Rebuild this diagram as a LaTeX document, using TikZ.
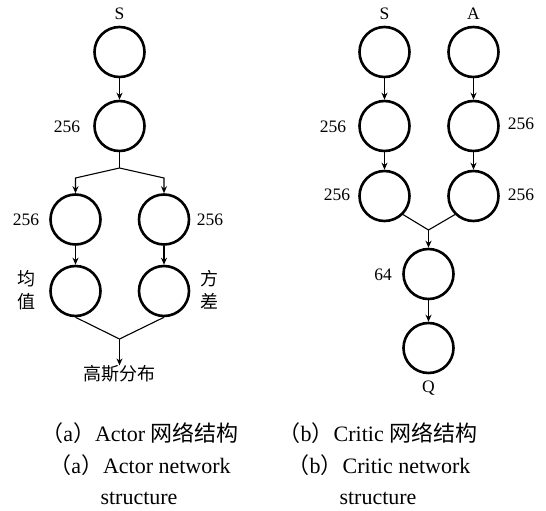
\documentclass[tikz,border=0pt]{standalone}
\usepackage{fontspec}
\setmainfont{Liberation Serif}
\newfontfamily\cjk{Noto Sans CJK SC}
\usetikzlibrary{arrows.meta}
\begin{document}
\begin{tikzpicture}[x=1pt,y=-1pt,
  neuron/.style={circle,draw,line width=2.6pt,minimum size=50pt,inner sep=0pt},
  flow/.style={line width=1.1pt,-{Stealth[length=7pt,width=6pt]}},
  link/.style={line width=1.1pt},
  lbl/.style={font=\fontsize{17.5}{19}\selectfont,inner sep=0pt},
  zh/.style={font=\cjk\fontsize{18}{20}\selectfont,inner sep=0pt},
  captext/.style={font=\fontsize{22}{24}\selectfont,inner sep=0pt}]
\useasboundingbox (0,0) rectangle (546,511);

% ---- Actor network ----
\node[neuron] (a1) at (119.5,52) {};
\node[neuron] (a2) at (119.5,126) {};
\node[neuron] (a3l) at (75.5,219.5) {};
\node[neuron] (a3r) at (164,219.5) {};
\node[neuron] (a4l) at (75.5,291) {};
\node[neuron] (a4r) at (164,291) {};

\node[lbl] (as) at (119.5,14) {S};
\node[lbl] (a2n) at (67,127) {256};
\node[lbl] (a3ln) at (26,220) {256};
\node[lbl] (a3rn) at (210,220) {256};
\node[zh] (mu1) at (26,279) {均};
\node[zh] (mu2) at (26,302) {值};
\node[zh] (sg1) at (209,279) {方};
\node[zh] (sg2) at (209,301) {差};
\node[zh] (gauss) at (119.5,374) {高斯分布};

\coordinate (aj) at (119.5,168);
\coordinate (ajl) at (75.5,178);
\coordinate (ajr) at (164,178);
\coordinate (am) at (119.5,339);

\draw[flow] (a1) -- (a2);
\draw[link] (a2) -- (aj);
\draw[flow] (aj) -- (ajl) -- (a3l);
\draw[flow] (aj) -- (ajr) -- (a3r);
\draw[flow] (a3l) -- (a4l);
\draw[flow] (a3r) -- (a4r);
\draw[link] (a4l.south) -- (am);
\draw[link] (a4r.south) -- (am);
\draw[flow] (am) -- (gauss.north);

% ---- Critic network ----
\node[neuron] (s1) at (384.5,52) {};
\node[neuron] (s2) at (384.5,126) {};
\node[neuron] (s3) at (384.5,196) {};
\node[neuron] (t1) at (473.5,52) {};
\node[neuron] (t2) at (473.5,126) {};
\node[neuron] (t3) at (473.5,196) {};
\node[neuron] (h) at (428.5,274) {};
\node[neuron] (q) at (428.5,348) {};

\node[lbl] (cs) at (384.5,14) {S};
\node[lbl] (ca) at (473.5,14) {A};
\node[lbl] (s2n) at (333,127) {256};
\node[lbl] (t2n) at (521,124) {256};
\node[lbl] (s3n) at (337,195) {256};
\node[lbl] (t3n) at (521,195) {256};
\node[lbl] (hn) at (383,275) {64};
\node[lbl] (qn) at (428.5,388) {Q};

\coordinate (cm) at (428.5,230);

\draw[flow] (s1) -- (s2);
\draw[flow] (s2) -- (s3);
\draw[flow] (t1) -- (t2);
\draw[flow] (t2) -- (t3);
\draw[link] (s3.-45) -- (cm);
\draw[link] (t3.-135) -- (cm);
\draw[flow] (cm) -- (h);
\draw[flow] (h) -- (q);

% ---- Captions ----
\node[captext] (capa1) at (140,433) {{\cjk （}a{\cjk ）}Actor {\cjk 网络结构}};
\node[captext] (capb1) at (378,433) {{\cjk （}b{\cjk ）}Critic {\cjk 网络结构}};
\node[captext] (capa2) at (140,465) {{\cjk （}a{\cjk ）}Actor network};
\node[captext] (capb2) at (379,465) {{\cjk （}b{\cjk ）}Critic network};
\node[captext] (capa3) at (139,498) {structure};
\node[captext] (capb3) at (378,498) {structure};
\end{tikzpicture}
\end{document}
